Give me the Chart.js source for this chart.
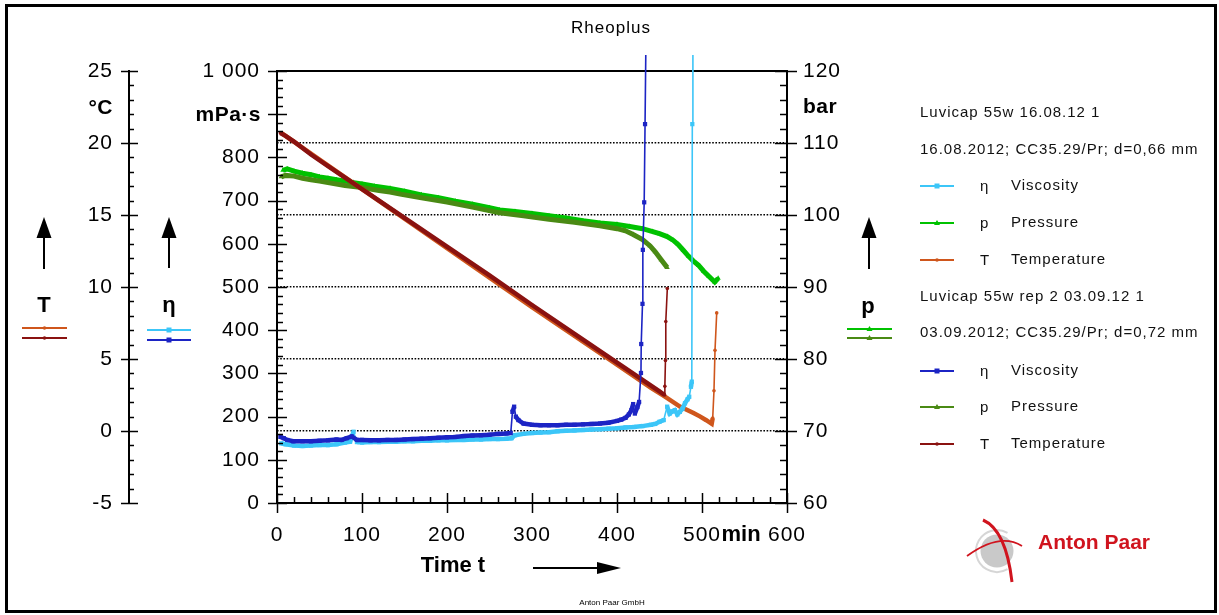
<!DOCTYPE html>
<html>
<head>
<meta charset="utf-8">
<script src="https://cdn.jsdelivr.net/npm/chart.js@4.4.0/dist/chart.umd.min.js"></script>
<style>
body{margin:0;background:#fff;}
canvas{display:block;}
</style>
</head>
<body>
<canvas id="rheo" width="1219" height="615"></canvas>
<script>
// run 1: Luvicap 55w 16.08.12 1
var visc1Time = [5, 10, 20, 30, 40, 50, 60, 70, 80, 86, 90, 94, 100, 110, 120, 130, 140, 150, 160, 170, 180, 190, 200, 210, 220, 230, 240, 250, 260, 270, 276, 280, 290, 300, 310, 320, 330, 340, 350, 360, 370, 380, 390, 400, 410, 420, 430, 440, 445, 450, 455, 459, 462, 465, 468, 471, 474, 477, 480, 483, 485, 487, 488, 488.6, 489.3];
var visc1 = [138, 136, 133, 132, 133, 134, 134, 136, 140, 142, 165, 141, 140, 141, 141, 142, 142, 143, 143, 144, 144, 145, 145, 146, 146, 147, 147, 148, 148, 149, 150, 157, 160, 162, 163, 164, 166, 167, 168, 169, 170, 171, 172, 173, 175, 176, 178, 181, 183, 188, 192, 223, 207, 212, 215, 205, 211, 218, 231, 240, 246, 269, 281, 877, 1300];
var press1Time = [7, 12, 20, 30, 40, 50, 60, 70, 80, 90, 100, 115, 133, 150, 170, 190, 210, 230, 250, 262, 280, 300, 320, 340, 360, 380, 400, 415, 430, 442, 450, 459, 466, 472, 478, 484, 490, 496, 502, 508, 515, 519];
var press1 = [106.2, 106.4, 106.1, 105.8, 105.6, 105.3, 105.1, 104.9, 104.7, 104.5, 104.3, 104.0, 103.7, 103.3, 102.8, 102.4, 101.9, 101.5, 101.0, 100.7, 100.5, 100.2, 99.9, 99.6, 99.2, 98.9, 98.7, 98.4, 98.1, 97.7, 97.4, 97.0, 96.5, 95.9, 95.1, 94.3, 93.6, 93.0, 92.2, 91.5, 90.7, 91.2];
var temp1Time = [5, 50, 100, 150, 200, 250, 300, 350, 400, 440, 456, 474, 490, 498, 505, 511.4, 512.6, 514.1, 515.3, 517.3];
var temp1 = [20.7, 18.85, 16.8, 14.75, 12.7, 10.65, 8.6, 6.6, 4.6, 3.0, 2.4, 1.7, 1.25, 1.0, 0.75, 0.5, 0.9, 2.8, 5.6, 8.2];

// run 2: Luvicap 55w rep 2 03.09.12 1
var visc2Time = [4, 8, 12, 19, 30, 40, 50, 60, 70, 76, 82, 88, 94, 100, 110, 120, 130, 140, 150, 160, 170, 180, 190, 200, 210, 220, 230, 240, 250, 260, 270, 275, 277, 279, 281, 284, 290, 300, 310, 320, 330, 340, 350, 360, 370, 380, 390, 400, 405, 410, 414, 417, 419, 421, 424, 426, 428.2, 428.5, 430, 430.4, 432, 433, 435];
var visc2 = [153, 150, 146, 143, 143, 143, 144, 145, 147, 146, 150, 154, 146, 146, 145, 145, 146, 146, 147, 148, 149, 150, 151, 152, 153, 155, 156, 157, 158, 160, 161, 162, 211, 223, 200, 192, 184, 181, 180, 180, 180, 181, 181, 182, 183, 184, 186, 190, 193, 197, 205, 215, 229, 207, 222, 234, 301, 368, 461, 586, 696, 877, 1250];
var press2Time = [5, 10, 20, 30, 40, 50, 60, 80, 100, 120, 133, 145, 170, 200, 230, 262, 290, 320, 350, 380, 400, 410, 419, 430, 439, 445, 452, 459];
var press2 = [105.3, 105.5, 105.4, 105.1, 104.9, 104.7, 104.5, 104.1, 103.8, 103.4, 103.2, 102.9, 102.4, 101.8, 101.1, 100.3, 99.9, 99.4, 99.0, 98.5, 98.1, 97.8, 97.3, 96.6, 95.7, 94.9, 93.8, 92.7];
var temp2Time = [4, 10, 20, 40, 60, 80, 100, 150, 200, 250, 300, 350, 400, 430, 450, 456, 456.3, 457, 457.4, 459.2];
var temp2 = [20.7, 20.5, 20.1, 19.2, 18.4, 17.6, 16.8, 14.8, 12.8, 10.8, 8.75, 6.75, 4.75, 3.55, 2.75, 2.5, 3.1, 4.9, 7.6, 9.9];

// axis ranges and tick labels
var timeTicks = [0, 100, 200, 300, 400, 500, 600];
var tempRange = [-5, 25];
var viscRange = [0, 1000];
var pressRange = [60, 120];

var lightBlue = "#3CC6F8", darkBlue = "#1C24C4";
var brightGreen = "#00C200", olive = "#4A8A14";
var orange = "#CF561C", maroon = "#8A1210";

Chart.defaults.font.family = '"Liberation Sans", Arial, sans-serif';
Chart.defaults.color = "#000";

function steepWidth(w){
    return function(ctx){
        var dx = Math.abs(ctx.p1.x - ctx.p0.x), dy = Math.abs(ctx.p1.y - ctx.p0.y);
        return (dy > 3 * dx && dy > 8) ? 1.6 : w;
    };
}
function series(label, times, values, axis, color, style, radius, width, order){
    return {
        label: label,
        data: times.map(function(t, i){ return {x: t, y: values[i]}; }),
        yAxisID: axis,
        borderColor: color,
        backgroundColor: color,
        pointBackgroundColor: color,
        pointBorderColor: color,
        pointBorderWidth: 0,
        pointStyle: style,
        pointRadius: radius,
        borderWidth: width,
        tension: 0,
        order: order,
        clip: {left: 0, top: 16, right: 0, bottom: 0},
        segment: {borderWidth: steepWidth(width)}
    };
}

function marker(c, style, x, y, color){
    c.fillStyle = color;
    c.beginPath();
    if(style == "rect"){ c.rect(x - 2.5, y - 2.5, 5, 5); }
    else if(style == "triangle"){ c.moveTo(x, y - 3); c.lineTo(x + 3, y + 2); c.lineTo(x - 3, y + 2); c.closePath(); }
    else { c.arc(x, y, 1.8, 0, Math.PI * 2); }
    c.fill();
}
function sample(c, x1, x2, y, color, style){
    c.strokeStyle = color; c.lineWidth = 1.8;
    c.beginPath(); c.moveTo(x1, y); c.lineTo(x2, y); c.stroke();
    marker(c, style, (x1 + x2) / 2, y, color);
}
function upArrow(c, x, tip, base){
    c.strokeStyle = "#000"; c.fillStyle = "#000"; c.lineWidth = 2;
    c.beginPath(); c.moveTo(x, base); c.lineTo(x, tip + 15); c.stroke();
    c.beginPath(); c.moveTo(x, tip); c.lineTo(x - 7.5, tip + 21); c.lineTo(x + 7.5, tip + 21); c.closePath(); c.fill();
}
function text(c, s, x, y, font, align, spacing){
    c.font = font; c.textAlign = align; c.textBaseline = "middle";
    c.letterSpacing = spacing || "0px";
    c.fillText(s, x, y);
}
// tick marks: major cross the axis line, minor point into the plot
function yTicks(c, scale, x, major, minor, majL, majR, minL, minR){
    for(var v = scale.min; v <= scale.max + 1e-6; v += minor){
        var y = Math.round(scale.getPixelForValue(v)) + 0.5;
        var isMajor = Math.abs((v - scale.min) / major - Math.round((v - scale.min) / major)) < 1e-6;
        c.beginPath();
        if(isMajor){ c.moveTo(x - majL, y); c.lineTo(x + majR, y); }
        else { c.moveTo(x - minL, y); c.lineTo(x + minR, y); }
        c.stroke();
    }
}

var decor = {
    id: "decor",
    beforeDraw: function(chart){
        chart.ctx.letterSpacing = "1px";
    },
    beforeDatasetsDraw: function(chart){
        var c = chart.ctx, a = chart.chartArea;
        c.save();
        c.strokeStyle = "#000"; c.lineWidth = 2;
        c.beginPath(); c.moveTo(a.left, a.top); c.lineTo(a.right, a.top); c.stroke();
        c.restore();
    },
    afterDraw: function(chart){
        var c = chart.ctx, s = chart.scales, a = chart.chartArea;
        c.save();
        // frame
        c.strokeStyle = "#000"; c.lineWidth = 3;
        c.strokeRect(6.5, 5.5, 1209, 606);

        // tick marks
        c.lineWidth = 1.5;
        yTicks(c, s.yT, s.yT.right, 5, 1, 8, 9, 0, 5);
        yTicks(c, s.yEta, a.left, 100, 20, 9, 10, 0, 6);
        yTicks(c, s.yP, a.right, 10, 2, 12, 10, 7, 0);
        for(var t = 0; t <= 600; t += 20){
            var x = Math.round(s.x.getPixelForValue(t)) + 0.5;
            c.beginPath();
            if(t % 100 == 0){ c.moveTo(x, a.bottom - 10); c.lineTo(x, a.bottom + 10); }
            else { c.moveTo(x, a.bottom - 6); c.lineTo(x, a.bottom); }
            c.stroke();
        }

        c.fillStyle = "#000";
        text(c, "Rheoplus", 611, 28, "17px 'Liberation Sans', Arial", "center", "1px");
        text(c, "°C", 113, 108, "bold 21px 'Liberation Sans', Arial", "right", "0.5px");
        text(c, "mPa·s", 261, 115, "bold 21px 'Liberation Sans', Arial", "right", "0.5px");
        text(c, "bar", 803, 107, "bold 21px 'Liberation Sans', Arial", "left", "0.5px");
        text(c, "min", s.x.getPixelForValue(546), 535, "bold 22px 'Liberation Sans', Arial", "center", "0px");
        text(c, "Time t", 453, 566, "bold 22px 'Liberation Sans', Arial", "center", "0px");
        text(c, "Anton Paar GmbH", 612, 603, "8px 'Liberation Sans', Arial", "center", "0px");

        // axis arrows and symbols
        upArrow(c, 44, 217, 269);
        upArrow(c, 169, 217, 268);
        upArrow(c, 869, 217, 269);
        c.fillStyle = "#000";
        text(c, "T", 44, 306, "bold 22px 'Liberation Sans', Arial", "center");
        text(c, "η", 169, 306, "bold 22px 'Liberation Sans', Arial", "center");
        text(c, "p", 868, 307, "bold 22px 'Liberation Sans', Arial", "center");
        sample(c, 22, 67, 328, orange, "circle");
        sample(c, 22, 67, 338, maroon, "circle");
        sample(c, 147, 191, 330, lightBlue, "rect");
        sample(c, 147, 191, 340, darkBlue, "rect");
        sample(c, 847, 892, 329, brightGreen, "triangle");
        sample(c, 847, 892, 338, olive, "triangle");

        // time arrow
        c.strokeStyle = "#000"; c.fillStyle = "#000"; c.lineWidth = 2;
        c.beginPath(); c.moveTo(533, 568); c.lineTo(600, 568); c.stroke();
        c.beginPath(); c.moveTo(621, 568); c.lineTo(597, 562); c.lineTo(597, 574); c.closePath(); c.fill();

        // legend
        var lf = "15px 'Liberation Sans', Arial";
        var rows = [
            [113, "Luvicap 55w 16.08.12 1"],
            [150, "16.08.2012; CC35.29/Pr; d=0,66 mm"],
            [186, "η", "Viscosity", lightBlue, "rect"],
            [223, "p", "Pressure", brightGreen, "triangle"],
            [260, "T", "Temperature", orange, "circle"],
            [297, "Luvicap 55w rep 2 03.09.12 1"],
            [333, "03.09.2012; CC35.29/Pr; d=0,72 mm"],
            [371, "η", "Viscosity", darkBlue, "rect"],
            [407, "p", "Pressure", olive, "triangle"],
            [444, "T", "Temperature", maroon, "circle"]
        ];
        rows.forEach(function(r){
            c.fillStyle = "#111";
            if(r.length == 2){
                text(c, r[1], 920, r[0], lf, "left", "1px");
            } else {
                sample(c, 920, 954, r[0], r[3], r[4]);
                c.fillStyle = "#111";
                text(c, r[1], 980, r[0] + 1, lf, "left", "1px");
                text(c, r[2], 1011, r[0], lf, "left", "1px");
            }
        });

        // Anton Paar logo
        c.fillStyle = "#C9C9C9";
        c.beginPath(); c.arc(997, 551, 16.5, 0, Math.PI * 2); c.fill();
        c.strokeStyle = "#D6D6D6"; c.lineWidth = 2;
        c.beginPath(); c.arc(997, 551, 21, -Math.PI / 3, Math.PI / 3, true); c.stroke();
        c.strokeStyle = "#D0141E"; c.lineWidth = 3;
        c.beginPath(); c.moveTo(983, 520); c.quadraticCurveTo(1006, 530, 1012, 582); c.stroke();
        c.lineWidth = 1.8;
        c.beginPath(); c.moveTo(967, 556); c.quadraticCurveTo(1000, 532, 1022, 546); c.stroke();
        c.fillStyle = "#D0141E";
        text(c, "Anton Paar", 1038, 543, "bold 21px 'Liberation Sans', Arial", "left", "0px");
        c.restore();
    }
};

var ctx = document.getElementById("rheo").getContext("2d");
var rheoChart = new Chart(ctx, {
    type: "line",
    data: {
        datasets: [
            series("η Viscosity 2", visc2Time, visc2, "yEta", darkBlue, "rect", 3, 4.5, 0),
            series("η Viscosity 1", visc1Time, visc1, "yEta", lightBlue, "rect", 3, 4.5, 1),
            series("T Temperature 2", temp2Time, temp2, "yT", maroon, "circle", 1.8, 4.5, 2),
            series("T Temperature 1", temp1Time, temp1, "yT", orange, "circle", 1.8, 4.5, 3),
            series("p Pressure 2", press2Time, press2, "yP", olive, "triangle", 3, 5, 4),
            series("p Pressure 1", press1Time, press1, "yP", brightGreen, "triangle", 3, 5, 5)
        ]
    },
    options: {
        responsive: false,
        animation: false,
        devicePixelRatio: 1,
        layout: {padding: {top: 71, left: 0, right: 0, bottom: 0}, autoPadding: false},
        plugins: {legend: {display: false}, tooltip: {enabled: false}, title: {display: false}},
        scales: {
            x: {
                type: "linear", position: "bottom", min: 0, max: 600,
                afterBuildTicks: function(scale){ scale.ticks = timeTicks.map(function(v){ return {value: v}; }); },
                ticks: {padding: 20, font: {size: 21}, maxRotation: 0, autoSkip: false},
                grid: {display: false, drawTicks: false},
                border: {display: true, color: "#000", width: 2},
                afterFit: function(scale){ scale.height = 112; }
            },
            yT: {
                type: "linear", position: "left", weight: 2, min: tempRange[0], max: tempRange[1],
                ticks: {stepSize: 5, padding: 16, font: {size: 21}, autoSkip: false},
                grid: {display: false, drawTicks: false},
                border: {display: true, color: "#000", width: 2},
                afterFit: function(scale){ scale.width = 129; }
            },
            yEta: {
                type: "linear", position: "left", weight: 1, min: viscRange[0], max: viscRange[1],
                ticks: {stepSize: 100, padding: 17, font: {size: 21}, autoSkip: false,
                    // the unit label sits where 900 would be
                    callback: function(v){ return v >= 1000 ? "1 000" : (v == 900 ? "" : String(v)); }},
                grid: {display: false, drawTicks: false},
                border: {display: true, color: "#000", width: 2},
                afterFit: function(scale){ scale.width = 148; }
            },
            yP: {
                type: "linear", position: "right", min: pressRange[0], max: pressRange[1],
                ticks: {stepSize: 10, padding: 16, font: {size: 21}, autoSkip: false},
                grid: {drawTicks: false, drawOnChartArea: true, lineWidth: 1.6,
                    color: function(c){ return (c.tick && c.tick.value > 60 && c.tick.value < 120) ? "#000" : "rgba(0,0,0,0)"; }},
                border: {display: true, color: "#000", width: 2, dash: [1.6, 1.6]},
                afterFit: function(scale){ scale.width = 432; }
            }
        }
    },
    plugins: [decor]
});
</script>
</body>
</html>
